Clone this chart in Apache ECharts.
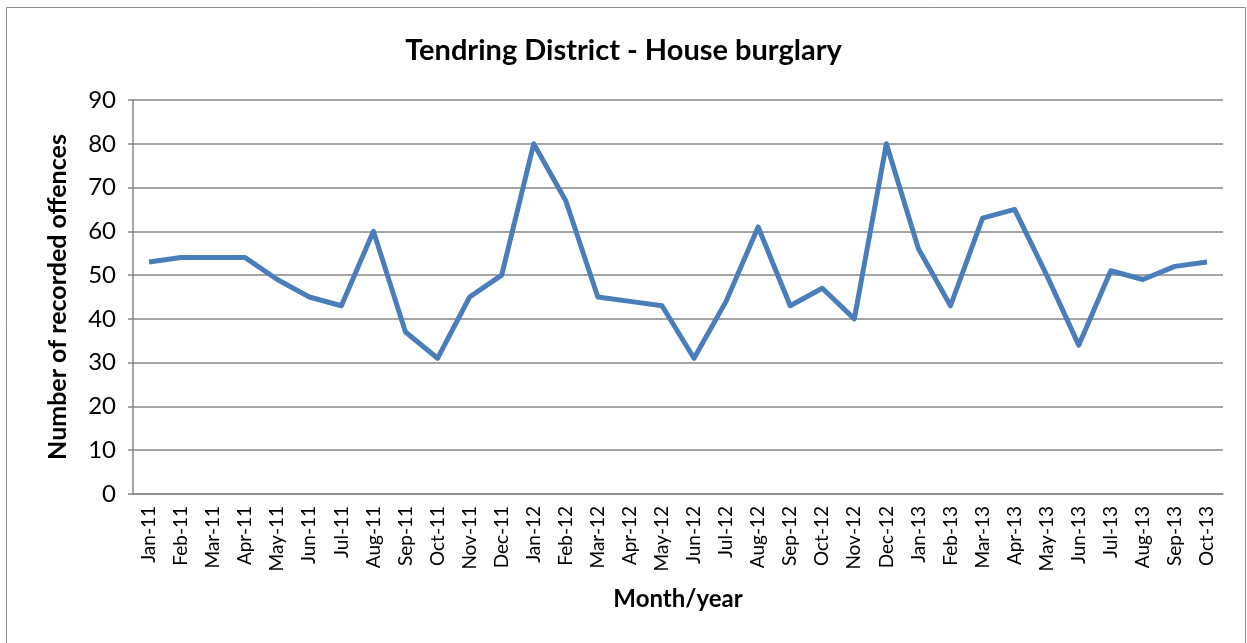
<!DOCTYPE html>
<html>
<head>
<meta charset="utf-8">
<script src="https://cdn.jsdelivr.net/npm/echarts@6/dist/echarts.min.js"></script>
<style>
  html, body { margin: 0; padding: 0; background: #fff; }
  #main { width: 1247px; height: 643px; }
</style>
</head>
<body>
<div id="main"></div>
<script>
// months shown on the x axis
var months = ['Jan-11', 'Feb-11', 'Mar-11', 'Apr-11', 'May-11', 'Jun-11', 'Jul-11', 'Aug-11', 'Sep-11', 'Oct-11', 'Nov-11', 'Dec-11',
  'Jan-12', 'Feb-12', 'Mar-12', 'Apr-12', 'May-12', 'Jun-12', 'Jul-12', 'Aug-12', 'Sep-12', 'Oct-12', 'Nov-12', 'Dec-12',
  'Jan-13', 'Feb-13', 'Mar-13', 'Apr-13', 'May-13', 'Jun-13', 'Jul-13', 'Aug-13', 'Sep-13', 'Oct-13'];

// recorded offences per month
var offences = [53, 54, 54, 54, 49, 45, 43, 60, 37, 31, 45, 50,
  80, 67, 45, 44, 43, 31, 44, 61, 43, 47, 40, 80,
  56, 43, 63, 65, 50, 34, 51, 49, 52, 53];

var font = 'Lato, "Open Sans", sans-serif';
var myChart = echarts.init(document.getElementById('main'));

var option = {
  animation: false,
  title: {
    text: 'Tendring District - House burglary',
    left: 'center',
    top: 31,
    textStyle: { fontFamily: font, fontSize: 29, fontWeight: 'bold', color: '#000' }
  },
  graphic: [{
    type: 'rect',
    shape: { x: 6.5, y: 7.5, width: 1239, height: 640 },
    style: { fill: 'none', stroke: '#8c8c8c', lineWidth: 1 }
  }],
  grid: { left: 133, right: 24, top: 100, bottom: 149 },
  xAxis: {
    type: 'category',
    data: months,
    boundaryGap: true,
    name: 'Month/year',
    nameLocation: 'middle',
    nameGap: 93,
    nameTextStyle: { fontFamily: font, fontSize: 24, fontWeight: 'bold', color: '#000' },
    axisLine: { lineStyle: { color: '#868686', width: 1.5 } },
    axisTick: { show: false },
    axisLabel: { rotate: 90, interval: 0, margin: 12, fontFamily: font, fontSize: 19, color: '#000' }
  },
  yAxis: {
    type: 'value',
    min: 0,
    max: 90,
    interval: 10,
    name: 'Number of recorded offences',
    nameLocation: 'middle',
    nameGap: 63,
    nameTextStyle: { fontFamily: font, fontSize: 25, fontWeight: 'bold', color: '#000' },
    axisLine: { show: true, lineStyle: { color: '#868686', width: 1.5 } },
    axisTick: { show: true, inside: false, length: 5, lineStyle: { color: '#868686', width: 1.5 } },
    axisLabel: { margin: 17, fontFamily: font, fontSize: 24, color: '#000' },
    splitLine: { lineStyle: { color: '#868686', width: 1.5 } }
  },
  series: [{
    type: 'line',
    data: offences,
    symbol: 'none',
    lineStyle: { color: '#4a7ebb', width: 5, join: 'round' }
  }]
};

myChart.setOption(option);
</script>
</body>
</html>
